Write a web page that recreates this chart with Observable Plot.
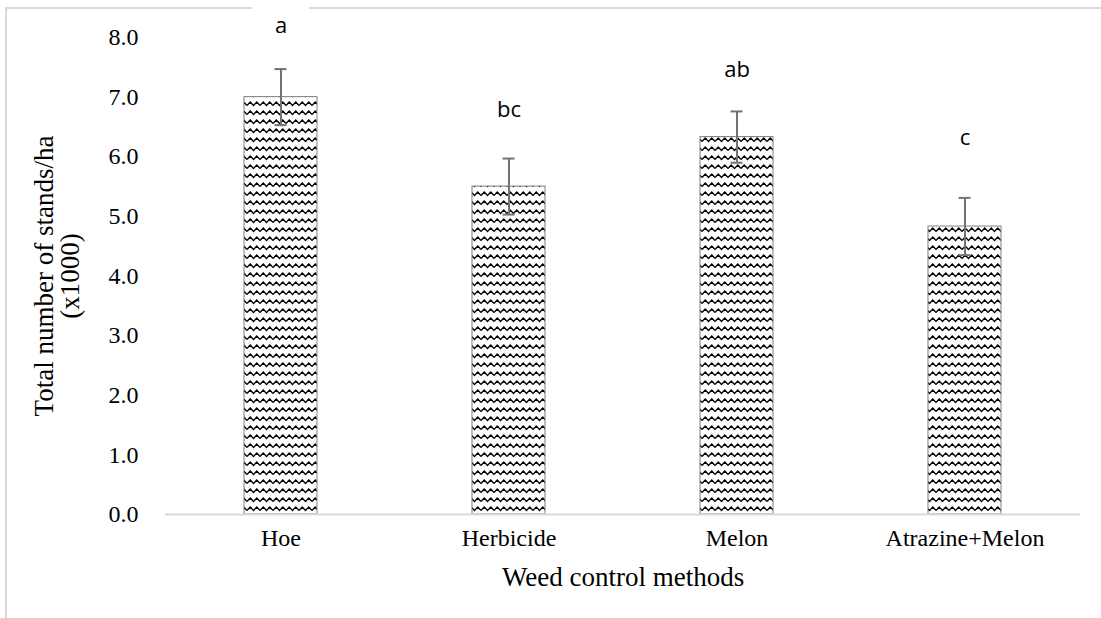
<!DOCTYPE html>
<html>
<head>
<meta charset="utf-8">
<script src="https://cdn.jsdelivr.net/npm/d3@7"></script>
<script src="https://cdn.jsdelivr.net/npm/@observablehq/plot@0.6"></script>
<style>
  html, body { margin: 0; padding: 0; background: #fff; }
  #wrap { position: relative; width: 1101px; height: 618px; overflow: hidden; }
  #frame { position: absolute; left: 5px; top: 7px; width: 1200px; height: 800px; border: 2px solid #d9d9d9; box-sizing: border-box; }
  #chart { position: absolute; left: 0; top: 0; }
</style>
</head>
<body>
<div id="wrap"><div id="frame"></div><div id="chart"></div></div>
<script>
const methods = ["Hoe", "Herbicide", "Melon", "Atrazine+Melon"];
const stands = [7.0, 5.5, 6.33, 4.83];
const stdErr = [0.47, 0.47, 0.43, 0.48];
const letters = ["a", "bc", "ab", "c"];
const letterY = [8.2, 6.78, 7.45, 6.31];
const yTicks = [0, 1, 2, 3, 4, 5, 6, 7, 8];
const yTitle = "Total number of stands/ha\n(x1000)";
const xTitle = "Weed control methods";

const data = methods.map((m, i) => ({
  method: m, value: stands[i], err: stdErr[i], letter: letters[i], ly: letterY[i]
}));

const plot = Plot.plot({
  width: 1101,
  height: 618,
  marginLeft: 165,
  marginRight: 21,
  marginTop: 37,
  marginBottom: 104,
  style: { background: "transparent", fontFamily: "Liberation Serif", fontSize: "24px", color: "#000" },
  x: { domain: methods, paddingInner: 0.68, paddingOuter: 0.34, label: null },
  y: { domain: [0, 8], label: null },
  marks: [
    Plot.barY(data, { x: "method", y: "value", fill: "url(#zigzag)", stroke: "#7f7f7f", strokeWidth: 1 }),
    Plot.ruleY([0], { stroke: "#d9d9d9", strokeWidth: 2 }),
    Plot.ruleX(data, { x: "method", y1: d => d.value - d.err, y2: d => d.value + d.err, stroke: "#737373", strokeWidth: 2 }),
    Plot.tickY(data, { x: "method", y: d => d.value + d.err, stroke: "#737373", strokeWidth: 2, insetLeft: 30.5, insetRight: 30.5 }),
    Plot.tickY(data, { x: "method", y: d => d.value - d.err, stroke: "#737373", strokeWidth: 2, insetLeft: 30.5, insetRight: 30.5 }),
    Plot.barY(data, { x: "method", y1: d => d.ly - 0.36, y2: d => d.ly + 0.36, fill: "white", insetLeft: 8, insetRight: 8 }),
    Plot.text(data, { x: "method", y: "ly", text: "letter", fontFamily: "Open Sans", fontSize: 22, fill: "#000" }),
    Plot.axisY({ ticks: yTicks, tickFormat: d3.format(".1f"), tickSize: 0, tickPadding: 27, fontSize: 24, fill: "#000" }),
    Plot.axisX({ tickSize: 0, tickPadding: 14, fontSize: 24, fill: "#000" }),
    Plot.text([yTitle], { frameAnchor: "left", dx: -108, rotate: -90, textAnchor: "middle", lineAnchor: "middle", fontSize: 27, lineHeight: 0.95, fill: "#000" }),
    Plot.text([xTitle], { frameAnchor: "bottom", dy: 63, textAnchor: "middle", lineAnchor: "middle", fontSize: 27, fill: "#000" })
  ]
});

const ns = "http://www.w3.org/2000/svg";
const defs = document.createElementNS(ns, "defs");
const pat = document.createElementNS(ns, "pattern");
pat.setAttribute("id", "zigzag");
pat.setAttribute("patternUnits", "userSpaceOnUse");
pat.setAttribute("width", 13);
pat.setAttribute("height", 9);
const bg = document.createElementNS(ns, "rect");
bg.setAttribute("width", 13); bg.setAttribute("height", 9); bg.setAttribute("fill", "white");
const path = document.createElementNS(ns, "path");
path.setAttribute("d", "M0,6.5 L3.25,3 L6.5,6.5 L9.75,3 L13,6.5");
path.setAttribute("fill", "none");
path.setAttribute("stroke", "#000");
path.setAttribute("stroke-width", 1.3);
pat.appendChild(bg); pat.appendChild(path);
defs.appendChild(pat);
plot.insertBefore(defs, plot.firstChild);

document.getElementById("chart").appendChild(plot);
</script>
</body>
</html>
